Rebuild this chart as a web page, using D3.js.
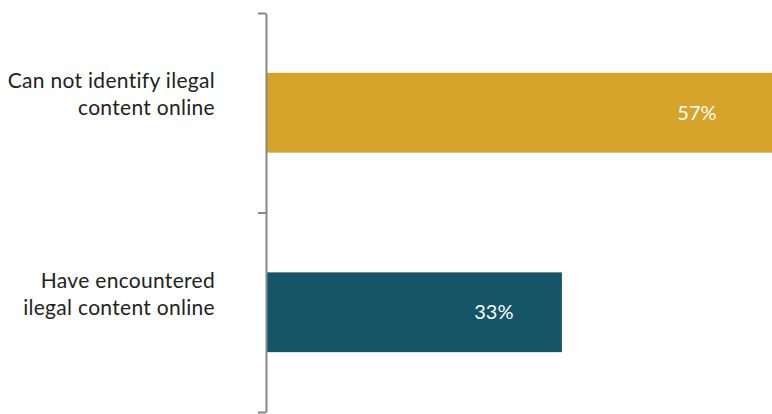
<!DOCTYPE html>
<html>
<head>
<meta charset="utf-8">
<script src="https://cdn.jsdelivr.net/npm/d3@7"></script>
<style>
  html, body { margin: 0; padding: 0; background: #fff; }
  svg { display: block; }
  .cat { font-family: Lato, "Open Sans", sans-serif; font-size: 21px; letter-spacing: 0.3px; fill: #222; }
  .val { font-family: Lato, "Open Sans", sans-serif; font-size: 20px; fill: #fff; }
</style>
</head>
<body>
<div id="chart"></div>
<script>
/** data **/
const categories = ["Can not identify ilegal content online", "Have encountered ilegal content online"];
const labelLines = [["Can not identify ilegal", "content online"], ["Have encountered", "ilegal content online"]];
const values = [0.57, 0.33];
const barColors = ["#D5A429", "#145568"];

const width = 772;
const height = 414;
const axisX = 266;

const svg = d3.select("#chart")
    .append("svg")
    .attr("width", width)
    .attr("height", height);

const x = d3.scaleLinear()
    .domain([0, 0.6])
    .range([axisX, axisX + 538]);

const y = d3.scaleBand()
    .domain(categories)
    .range([13, 412])
    .padding(0);

// bars sit in the middle 40% of each band
const barH = y.bandwidth() * 0.4;

svg.append("g")
    .selectAll("rect")
    .data(categories)
    .join("rect")
    .attr("x", x(0))
    .attr("y", d => y(d) + (y.bandwidth() - barH) / 2)
    .attr("width", (d, i) => x(values[i]) - x(0))
    .attr("height", barH)
    .attr("fill", (d, i) => barColors[i]);

// value labels, a bit in from the bar end
svg.append("g")
    .selectAll("text")
    .data(categories)
    .join("text")
    .attr("class", "val")
    .attr("text-anchor", "middle")
    .attr("x", (d, i) => x(values[i] * 0.944) - 51.5)
    .attr("y", d => y(d) + y.bandwidth() / 2 + 7)
    .text((d, i) => Math.round(values[i] * 100) + "%");

// axis with ticks on band boundaries
const edge = d3.scaleLinear().domain([0, categories.length]).range(y.range());
const axis = svg.append("g")
    .attr("transform", `translate(${axisX},0)`)
    .call(d3.axisLeft(edge).tickValues(d3.range(categories.length + 1)).tickFormat("").tickSize(8).tickSizeOuter(0));
axis.selectAll("path, line")
    .attr("stroke", "#878787")
    .attr("stroke-width", 2);

// category labels
const cat = svg.append("g")
    .selectAll("text")
    .data(categories)
    .join("text")
    .attr("class", "cat")
    .attr("text-anchor", "end")
    .attr("x", axisX - 51)
    .attr("y", d => y(d) + y.bandwidth() / 2);

cat.selectAll("tspan")
    .data((d, i) => labelLines[i])
    .join("tspan")
    .attr("x", axisX - 51)
    .attr("dy", (d, j) => j === 0 ? -24.5 : 27)
    .text(d => d);
</script>
</body>
</html>
